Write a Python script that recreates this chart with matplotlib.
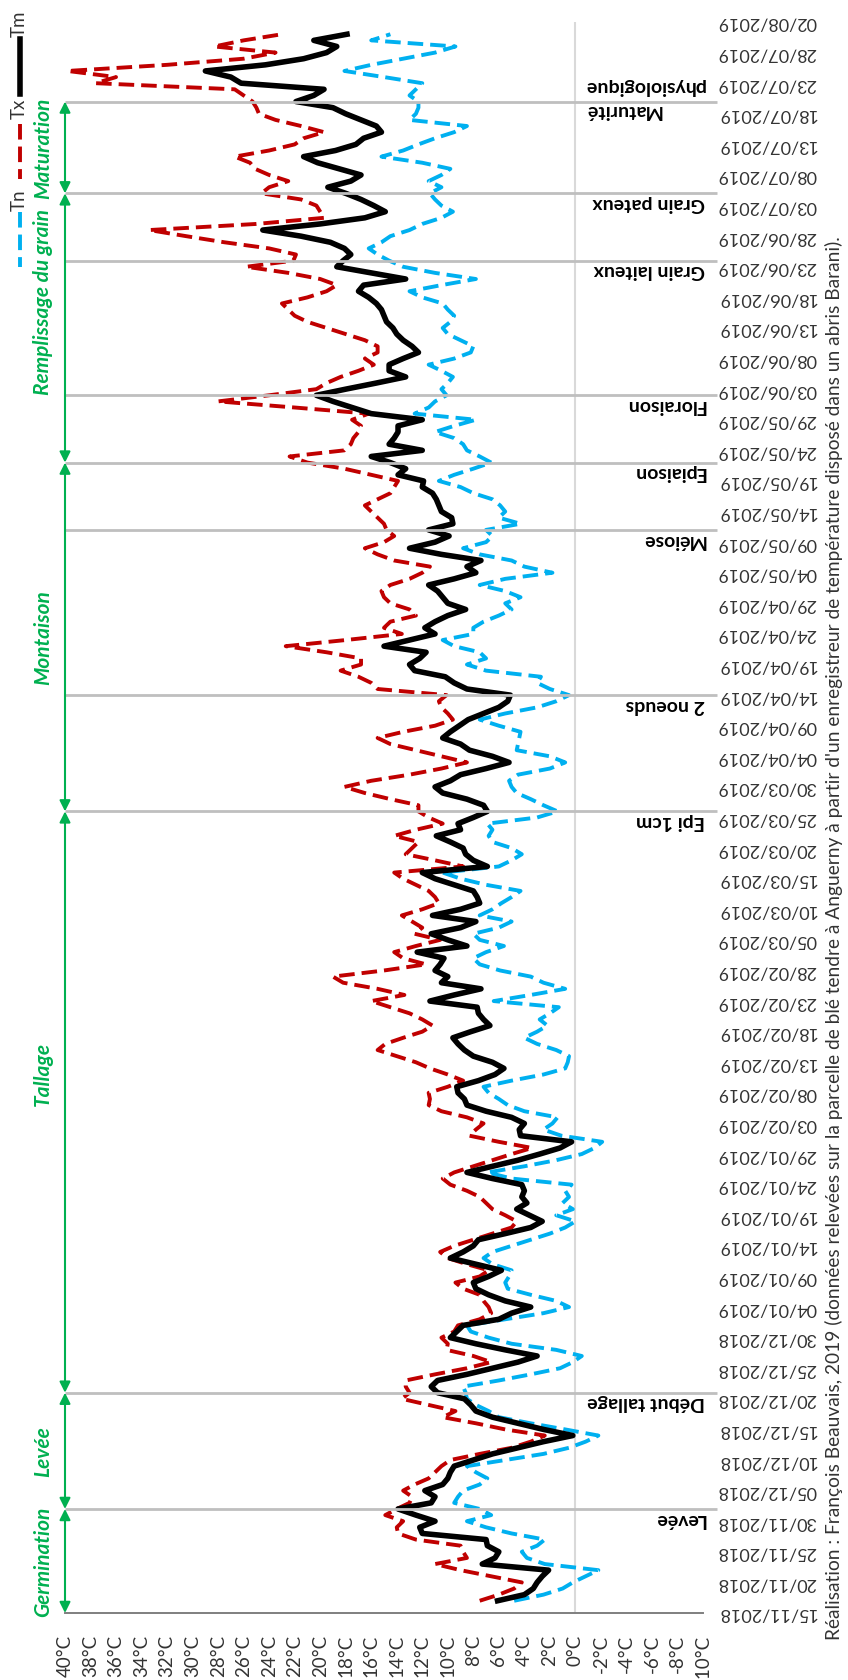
import pandas as pd
import matplotlib
matplotlib.use("Agg")
import matplotlib.pyplot as plt
from matplotlib.lines import Line2D
from matplotlib.transforms import blended_transform_factory

plt.rcParams["font.family"] = ["Lato", "DejaVu Sans"]

# Daily temperatures (°C) recorded from 17/11/2018
start_date = "2018-11-17"

t_min = [
    4.8, 2.5, 1.0, 0.2, -0.8, -1.8, 2.4, 3.8, 4.2, 3.0,
    2.4, 5.0, 7.0, 8.5, 6.6, 7.5, 9.5, 9.2, 8.8, 7.5,
    6.9, 7.8, 8.5, 5.5, 2.5, 0.5, -0.8, -1.8, 0.8, 3.5,
    6.0, 6.8, 7.8, 8.5, 8.6, 8.8, 6.0, 3.5, 1.2, 0.2,
    -0.5, 1.5, 5.0, 6.8, 8.2, 8.5, 5.5, 2.5, 0.5, 1.5,
    3.5, 5.3, 5.5, 5.2, 5.0, 6.5, 7.2, 6.5, 5.0, 3.5,
    2.0, 0.8, 0.0, 1.5, 0.2, 1.0, 0.5, 0.8, 0.3, 5.0,
    6.9, 4.0, 1.5, -0.5, -1.5, -2.1, 1.1, 2.5, 1.8, 1.4,
    4.0, 5.3, 6.0, 6.8, 7.2, 5.0, 2.5, 0.8, 0.6, 0.5,
    1.5, 3.0, 4.0, 3.0, 2.2, 2.8, 2.0, 1.3, 6.4, 3.5,
    0.8, 2.5,
    3.5, 5.9, 7.5, 8.0, 7.0, 5.6, 7.5, 8.0, 6.0, 5.0,
    7.5, 6.5, 5.8, 5.0, 4.3, 7.0, 9.0, 10.4, 6.0, 5.0,
    4.2, 5.0, 6.5, 6.8, 6.5, 6.9, 3.0, 1.4, 2.5, 3.5,
    4.6, 5.0, 5.2, 4.5, 2.0, 0.8, 2.0, 4.6, 4.5, 4.4,
    4.3, 6.0, 7.5, 5.5, 3.0, 1.5, 0.5, 2.0, 3.0, 2.7,
    7.0, 8.5,
    7.0, 7.5, 9.5, 10.4, 8.0, 8.0, 7.2, 6.0, 5.0, 5.5,
    4.3, 5.5, 7.5, 5.5, 1.8, 4.0, 5.0, 7.5, 8.8, 7.0,
    6.5, 7.0, 4.3, 6.0, 5.5, 5.9, 6.5, 8.0, 9.0, 10.7,
    9.5, 8.0, 6.6, 7.5, 8.5, 8.8, 9.5, 11.0, 9.5, 7.8,
    12.6, 11.5, 11.0, 10.1, 10.5, 10.0, 9.6, 10.5, 11.5, 9.5,
    8.2,
    8.0, 9.0, 10.0, 10.4, 9.8, 9.5, 10.0, 10.4, 12.0, 13.0,
    10.5, 7.8, 11.0, 13.5, 14.6, 15.5, 16.2, 15.2, 14.5, 13.0,
    12.0, 10.5, 9.6, 10.5, 11.0, 11.4, 10.5, 11.5, 10.5, 9.8,
    12.0, 15.2, 13.5, 12.3, 11.0, 9.5, 8.5, 13.0, 12.5, 12.3,
    12.3, 13.0, 12.5, 12.0, 15.0, 18.1, 16.0, 13.5, 11.0, 9.4,
    16.0, 14.5,
]

t_max = [
    7.5, 6.0, 4.8, 4.2, 6.6, 9.0, 11.0, 8.5, 8.8, 9.0,
    12.5, 13.9, 14.0, 13.5, 14.9, 14.0, 13.0, 12.8, 13.5, 12.6,
    11.5, 11.0, 10.5, 9.8, 7.5, 5.0, 3.5, 2.4, 5.5, 7.8,
    10.4, 9.4, 11.5, 13.6, 13.0, 13.3, 13.3, 11.0, 8.5, 6.6,
    8.0, 10.1, 10.0, 10.5, 9.5, 9.2, 7.5, 6.6, 6.8, 7.2,
    7.5, 8.8, 9.4, 7.5, 6.8, 8.5, 10.0, 10.6, 9.5, 8.0,
    6.5, 5.0, 4.6, 5.5, 6.5, 7.0, 7.5, 8.5, 9.8, 10.4,
    9.5, 8.0, 6.5, 5.0, 3.4, 6.0, 8.3, 7.8, 7.2, 8.5,
    10.5, 11.5, 11.4, 11.5, 10.0, 8.8, 10.0, 11.4, 12.5, 14.0,
    15.5, 14.9, 13.5, 12.0, 11.2, 12.0, 13.0, 14.5, 16.0, 13.4,
    15.5, 18.2,
    19.0, 15.0, 11.7, 13.5, 14.2, 12.5, 10.6, 12.6, 12.0, 12.8,
    13.6, 12.0, 10.7, 11.0, 11.5, 12.5, 13.5, 14.2, 8.8, 11.0,
    13.3, 12.8, 12.3, 14.2, 12.5, 10.4, 11.5, 12.3, 12.3, 14.5,
    16.5, 18.1, 16.0, 13.0, 10.5, 8.5, 10.5, 12.5, 14.5, 15.5,
    13.5, 11.0, 9.6, 10.0, 10.5, 10.7, 10.1, 15.5, 16.0, 17.0,
    18.4, 16.8,
    16.8, 19.5, 22.7, 18.0, 13.6, 15.0, 14.5, 12.5, 13.0, 14.5,
    15.0, 15.2, 14.5, 13.0, 12.0, 11.4, 14.2, 15.5, 16.5, 15.0,
    14.2, 14.8, 15.0, 15.5, 16.0, 16.5, 15.5, 14.5, 14.2, 13.9,
    16.0, 18.1, 21.0, 22.4, 18.1, 17.6, 17.4, 17.0, 16.8, 17.5,
    16.2, 22.0, 28.0, 24.0, 20.3, 19.5, 18.4, 17.0, 15.8, 16.5,
    15.5,
    15.5, 16.5, 18.0, 19.5, 21.0, 22.0, 22.5, 23.0, 21.0, 19.5,
    18.7, 20.0, 22.5, 25.8, 22.1, 21.9, 24.0, 27.5, 30.5, 33.4,
    25.0, 19.7, 20.0, 20.3, 21.5, 24.6, 24.0, 22.5, 24.0, 25.1,
    25.5, 26.7, 24.0, 22.0, 21.3, 19.7, 21.5, 23.5, 24.8, 25.0,
    25.3, 26.0, 26.7, 37.6, 36.0, 39.8, 32.0, 26.0, 23.5, 28.3,
    26.0, 23.0,
]

t_mean = [
    6.1, 4.0, 3.3, 3.0, 2.6, 2.1, 7.3, 6.3, 6.0, 6.9,
    7.0, 12.0, 12.2, 11.0, 12.5, 13.9, 11.3, 11.0, 11.8, 10.4,
    10.0, 9.8, 9.5, 8.0, 6.5, 4.5, 2.5, 0.2, 2.5, 4.5,
    6.5, 7.8, 8.2, 8.7, 10.8, 11.3, 10.8, 8.5, 6.5, 4.5,
    3.0, 5.5, 7.8, 9.8, 9.3, 8.8, 6.0, 5.0, 3.5, 5.5,
    6.8, 7.8, 8.0, 6.8, 5.8, 7.8, 9.8, 8.8, 8.0, 7.6,
    5.5, 3.5, 2.6, 3.6, 4.6, 3.8, 4.2, 4.0, 4.2, 6.5,
    8.5, 6.5, 4.5, 2.8, 1.2, 0.3, 4.3, 4.4, 4.0, 5.0,
    7.0, 8.5, 8.7, 9.2, 9.3, 7.6, 6.3, 5.6, 6.5, 8.0,
    8.7, 9.2, 9.6, 8.2, 6.7, 7.2, 7.6, 7.7, 11.4, 9.5,
    7.4, 10.5,
    10.0, 11.0, 10.6, 10.3, 12.4, 8.5, 10.0, 11.3, 9.0, 7.8,
    11.2, 9.0, 7.5, 7.7, 8.0, 9.5, 11.0, 12.0, 6.9, 8.0,
    8.6, 8.8, 9.8, 10.9, 9.0, 9.2, 8.0, 6.9, 7.2, 8.5,
    10.4, 11.0, 9.8, 9.0, 7.0, 5.2, 6.5, 8.3, 9.0, 10.4,
    9.8, 9.1, 8.4, 7.2, 6.0, 5.3, 5.1, 8.5, 9.5, 10.2,
    12.6, 13.0,
    12.2, 11.7, 15.0, 13.0, 11.0, 11.8, 11.0, 10.0, 8.6, 10.0,
    10.4, 10.8, 11.5, 9.5, 7.8, 8.5, 7.4, 10.5, 13.0, 11.0,
    9.9, 11.5, 9.6, 9.7, 10.5, 10.7, 10.9, 11.2, 12.0, 11.9,
    13.9, 13.3, 14.5, 16.0, 12.0, 14.6, 14.2, 13.9, 13.9, 12.0,
    16.0, 17.5, 19.0, 20.3, 18.0, 15.6, 13.3, 14.6, 14.6, 13.5,
    12.3,
    12.8, 13.5, 14.0, 14.3, 14.8, 15.0, 15.2, 15.6, 16.2, 17.0,
    16.6, 13.3, 16.0, 18.7, 18.2, 17.6, 18.1, 19.2, 21.5, 24.5,
    20.0, 16.5, 14.9, 15.8, 16.8, 18.0, 19.4, 17.6, 16.8, 18.5,
    20.2, 21.3, 18.8, 17.2, 16.6, 15.2, 15.6, 16.8, 18.0, 19.0,
    21.9, 20.5, 19.7, 26.2, 27.0, 29.0, 24.3, 21.3, 19.5, 18.7,
    20.5, 17.9,
]

axis_start = "2018-11-15"
axis_end = "2019-08-02"
temp_ticks = list(range(-10, 41, 2))

phase_names = ["Levée", "Début tallage", "Epi 1cm", "2 noeuds", "Méiose",
               "Epiaison", "Floraison", "Grain laiteux", "Grain pateux",
               "Maturité\nphysiologique"]
phase_dates = ["2018-12-02", "2018-12-21", "2019-03-26", "2019-04-14",
               "2019-05-11", "2019-05-22", "2019-06-02", "2019-06-24",
               "2019-07-05", "2019-07-20"]

stage_names = ["Germination", "Levée", "Tallage", "Montaison",
               "Remplissage du grain", "Maturation"]
stage_bounds = ["2018-11-15", "2018-12-02", "2018-12-21", "2019-03-26",
                "2019-05-22", "2019-07-05", "2019-07-20"]
# where each stage name sits along its arrow (0 = start, 1 = end)
stage_label_frac = [0.5, 0.5, 0.55, 0.5, 0.6, 0.5]

footer = ("Réalisation : François Beauvais, 2019 (données relevées sur la parcelle "
          "de blé tendre à Anguerny à partir d'un enregistreur de température "
          "disposé dans un abris Barani).")

C_TN = "#00B0F0"
C_TX = "#C00000"
C_TM = "#000000"
C_STAGE = "#00B050"
C_TEXT = "#333333"
C_PHASE = "#BFBFBF"

W, H = 848, 1681
fig = plt.figure(figsize=(W / 100, H / 100), dpi=100)
L, R, B, T = 65, 703, 1614, 23
ax = fig.add_axes([L / W, 1 - B / H, (R - L) / W, (B - T) / H])

dates = pd.date_range(start_date, periods=len(t_mean), freq="D")
dash = (0, (4.0, 1.8))
LW_DASH = 2.8
LW_MEAN = 4.0
ax.plot(t_min, dates, color=C_TN, lw=LW_DASH, ls=dash, zorder=3)
ax.plot(t_max, dates, color=C_TX, lw=LW_DASH, ls=dash, zorder=3)
ax.plot(t_mean, dates, color=C_TM, lw=LW_MEAN, zorder=4)

ax.axvline(0, color="#D9D9D9", lw=1.5, zorder=1)

ax.set_xlim(40, -10)
ax.set_ylim(pd.Timestamp(axis_start), pd.Timestamp(axis_end))

ax.set_xticks(temp_ticks)
ax.set_xticklabels([f"{t}°C" for t in temp_ticks])
ax.tick_params(axis="x", length=0, pad=15, labelsize=13.5, labelcolor=C_TEXT,
               labelrotation=90)

tick_dates = pd.date_range(axis_start, axis_end, freq="5D")
ax.yaxis.tick_right()
ax.set_yticks(tick_dates)
ax.set_yticklabels([d.strftime("%d/%m/%Y") for d in tick_dates])
ax.tick_params(axis="y", length=0, pad=10, labelsize=13, labelcolor=C_TEXT,
               labelrotation=180)
for lab in ax.get_yticklabels():
    lab.set_va("center")

for side in ("top", "right", "left"):
    ax.spines[side].set_visible(False)
ax.spines["bottom"].set_color("#7F7F7F")
ax.spines["bottom"].set_linewidth(1.4)

# Phenological stage markers
x_right = -11.1
lab_tr = blended_transform_factory(ax.transAxes, ax.transData)
for name, d in zip(phase_names, phase_dates):
    dd = pd.Timestamp(d)
    ax.plot([40, x_right], [dd, dd], color=C_PHASE, lw=2.0, zorder=5,
            clip_on=False, solid_capstyle="butt")
    if "\n" in name:
        ypos = dd + pd.Timedelta(days=0.6)
        spacing = 1.5
    else:
        ypos = dd - pd.Timedelta(days=1.5)
        spacing = 1.2
    ax.text(1.003, ypos, name, transform=lab_tr, rotation=180, ha="right",
            va="center", fontsize=14, fontweight="bold", color="#000000",
            linespacing=spacing, zorder=6)

# Stage arrows and names
stage_tr = blended_transform_factory(fig.transFigure, ax.transData)
for i, name in enumerate(stage_names):
    d0 = pd.Timestamp(stage_bounds[i])
    d1 = pd.Timestamp(stage_bounds[i + 1])
    ax.annotate("", xy=(40, d1), xytext=(40, d0),
                arrowprops=dict(arrowstyle="<|-|>", color=C_STAGE, lw=1.5,
                                shrinkA=0, shrinkB=0, mutation_scale=16),
                annotation_clip=False, zorder=6)
    pos = d0 + (d1 - d0) * stage_label_frac[i]
    ax.text(43 / W, pos, name, transform=stage_tr, rotation=90, ha="center",
            va="center", fontsize=15, fontweight="bold", fontstyle="italic",
            color=C_STAGE)

# Legend, drawn in the same rotated orientation
def fx(x):
    return x / W

def fy(y):
    return 1 - y / H

legend_items = [("Tn", C_TN, dash, LW_DASH, 200, (213, 268)),
                ("Tx", C_TX, dash, LW_DASH, 109, (125, 180)),
                ("Tm", C_TM, "-", LW_MEAN, 24, (40, 95))]
for label, col, ls, lw, ty, (y0, y1) in legend_items:
    fig.add_artist(Line2D([fx(20), fx(20)], [fy(y0), fy(y1)], color=col,
                          lw=lw, ls=ls, transform=fig.transFigure))
    fig.text(fx(19), fy(ty), label, rotation=90, ha="center", va="center",
             fontsize=13.5, color=C_TEXT)

fig.text(fx(834), fy(938), footer, rotation=90, ha="center", va="center",
         fontsize=13.8, color=C_TEXT)

fig.savefig("out.png", dpi=100)
